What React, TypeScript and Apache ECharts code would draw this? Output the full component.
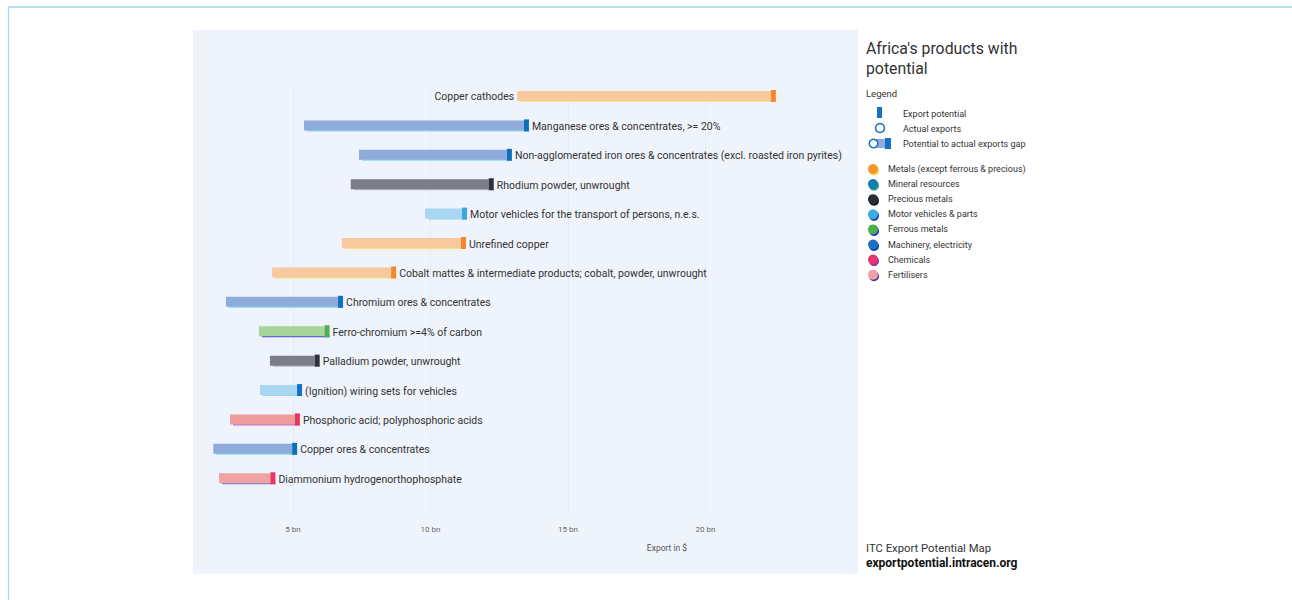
import React, { useEffect, useRef } from "react";
import * as echarts from "echarts";

const products = [
  "Copper cathodes",
  "Manganese ores & concentrates, >= 20%",
  "Non-agglomerated iron ores & concentrates (excl. roasted iron pyrites)",
  "Rhodium powder, unwrought",
  "Motor vehicles for the transport of persons, n.e.s.",
  "Unrefined copper",
  "Cobalt mattes & intermediate products; cobalt, powder, unwrought",
  "Chromium ores & concentrates",
  "Ferro-chromium >=4% of carbon",
  "Palladium powder, unwrought",
  "(Ignition) wiring sets for vehicles",
  "Phosphoric acid; polyphosphoric acids",
  "Copper ores & concentrates",
  "Diammonium hydrogenorthophosphate",
];
// billions of US$
const actualExports = [13.15, 5.4, 7.4, 7.1, 9.8, 6.78, 4.24, 2.56, 3.76, 4.16, 3.8, 2.71, 2.1, 2.31];
const exportPotential = [22.56, 13.58, 12.96, 12.3, 11.33, 11.29, 8.75, 6.82, 6.33, 5.97, 5.33, 5.25, 5.15, 4.36];
const productGroup = [0, 1, 1, 2, 3, 0, 0, 1, 4, 2, 5, 6, 1, 7];

const groupNames = [
  "Metals (except ferrous & precious)",
  "Mineral resources",
  "Precious metals",
  "Motor vehicles & parts",
  "Ferrous metals",
  "Machinery, electricity",
  "Chemicals",
  "Fertilisers",
];
const xTicks = [5, 10, 15, 20];

// styles
const groupDot = ["#f7962e", "#157cb4", "#2a2f36", "#3aaee2", "#4cb04c", "#1a72c6", "#e5366a", "#f2a0a8"];
const groupDotShadow = ["#f2d84a", "#2aa08a", "#111418", "#1a3aa8", "#2424c8", "#0d3f8a", "#8a2ab0", "#5a2aa0"];
const groupBar = ["#f8c99e", "#8eabdc", "#7b7e88", "#a9d6f0", "#a6d49a", "#a9d6f0", "#ef9c9e", "#f0a3a3"];
const groupMarker = ["#f4892c", "#0e72b9", "#2c333b", "#3aa6e0", "#4caf50", "#1670c4", "#e6375e", "#e6375e"];
const groupUnder = ["#f0e468", "#7cdde0", "#b4b8bf", "#8fd0f0", "#3a3ad8", "#8fd0f0", "#b060d8", "#6a6ad8"];

const LABEL_LEFT_FROM_X = 700;

export default function App() {
  const ref = useRef<HTMLDivElement>(null);
  useEffect(() => {
    if (!ref.current) return;
    const chart = echarts.init(ref.current, null, { renderer: "svg" });
    const data = products.map((_, i) => [i, actualExports[i], exportPotential[i], productGroup[i]]);

    const legendGraphics: any[] = [];
    groupNames.forEach((name, k) => {
      const y = 169 + 15.1 * k;
      legendGraphics.push({
        type: "circle",
        shape: { cx: 874, cy: y + 1.5, r: 5 },
        style: { fill: groupDotShadow[k] },
        silent: true,
      });
      legendGraphics.push({
        type: "circle",
        shape: { cx: 873, cy: y, r: 5 },
        style: { fill: groupDot[k] },
        silent: true,
      });
      legendGraphics.push({
        type: "text",
        x: 888,
        y,
        style: { text: name, fill: "#333", font: "9px Roboto", verticalAlign: "middle" },
        silent: true,
      });
    });

    chart.setOption({
      animation: false,
      grid: { left: 155.5, right: 449, top: 86, bottom: 85, show: false },
      xAxis: {
        type: "value",
        min: 0,
        max: 25,
        interval: 5,
        axisLine: { show: false },
        axisTick: { show: false },
        splitLine: { show: false },
        axisLabel: {
          customValues: xTicks,
          formatter: (v: number) => `${v} bn`,
          color: "#666",
          fontSize: 8,
          fontFamily: "Roboto",
          margin: 10,
        },
      },
      yAxis: { type: "value", inverse: true, min: -0.34, max: 14.25, show: false },
      graphic: [
        { type: "line", shape: { x1: 8, y1: 7, x2: 1292, y2: 7 }, style: { stroke: "#6cc3de", lineWidth: 1.2 }, silent: true, z: -10 },
        { type: "line", shape: { x1: 8.5, y1: 7, x2: 8.5, y2: 600 }, style: { stroke: "#a0dcef", lineWidth: 1.2 }, silent: true, z: -10 },
        { type: "rect", shape: { x: 193, y: 30, width: 665, height: 544 }, style: { fill: "#eff4fc" }, silent: true, z: -10 },
        { type: "text", x: 667, y: 548, style: { text: "Export in $", fill: "#555", font: "8.5px Roboto", align: "center", verticalAlign: "middle" }, silent: true },
        { type: "text", x: 866, y: 48, style: { text: "Africa's products with", fill: "#333", font: "15.8px Roboto", verticalAlign: "middle" }, silent: true },
        { type: "text", x: 866, y: 68, style: { text: "potential", fill: "#333", font: "15.8px Roboto", verticalAlign: "middle" }, silent: true },
        { type: "text", x: 866, y: 93, style: { text: "Legend", fill: "#333", font: "9.5px Roboto", verticalAlign: "middle" }, silent: true },
        { type: "rect", shape: { x: 877, y: 107, width: 5, height: 11 }, style: { fill: "#1670c4" }, silent: true },
        { type: "text", x: 903, y: 114, style: { text: "Export potential", fill: "#333", font: "9px Roboto", verticalAlign: "middle" }, silent: true },
        { type: "circle", shape: { cx: 880, cy: 128, r: 4.5 }, style: { fill: "#fff", stroke: "#1670c4", lineWidth: 1.5 }, silent: true },
        { type: "text", x: 903, y: 129, style: { text: "Actual exports", fill: "#333", font: "9px Roboto", verticalAlign: "middle" }, silent: true },
        { type: "rect", shape: { x: 874, y: 139, width: 12, height: 9 }, style: { fill: "#8eabdc" }, silent: true },
        { type: "rect", shape: { x: 885, y: 138, width: 6, height: 11 }, style: { fill: "#1670c4" }, silent: true },
        { type: "circle", shape: { cx: 873.5, cy: 143.5, r: 4.3 }, style: { fill: "#fff", stroke: "#1670c4", lineWidth: 1.5 }, silent: true },
        { type: "text", x: 903, y: 144, style: { text: "Potential to actual exports gap", fill: "#333", font: "9px Roboto", verticalAlign: "middle" }, silent: true },
        ...legendGraphics,
        { type: "text", x: 866, y: 548, style: { text: "ITC Export Potential Map", fill: "#333", font: "11.3px Roboto", verticalAlign: "middle" }, silent: true },
        { type: "text", x: 866, y: 563, style: { text: "exportpotential.intracen.org", fill: "#111", font: "bold 12px Roboto", verticalAlign: "middle" }, silent: true },
      ],
      series: [
        {
          type: "line",
          data: [],
          silent: true,
          z: 0,
          markLine: {
            silent: true,
            symbol: "none",
            z: 0,
            label: { show: false },
            lineStyle: { color: "#e6ebf3", width: 1, type: "solid" },
            data: xTicks.map((v) => ({ xAxis: v })),
          },
        },
        {
          type: "custom",
          data,
          silent: true,
          z: 5,
          renderItem: (_params: any, api: any) => {
            const i = api.value(0);
            const a = api.value(1);
            const p = api.value(2);
            const g = api.value(3);
            const s = api.coord([a, i]);
            const e = api.coord([p, i]);
            const h = 10;
            const mw = 5;
            const name = products[i];
            const labelLeft = e[0] > LABEL_LEFT_FROM_X;
            return {
              type: "group",
              children: [
                {
                  type: "rect",
                  shape: { x: s[0] + 3, y: s[1] + h / 2 - 1, width: e[0] - s[0] - 3, height: 2 },
                  style: { fill: groupUnder[g], opacity: 0.9 },
                },
                {
                  type: "rect",
                  shape: { x: s[0], y: s[1] - h / 2, width: e[0] - s[0] - mw, height: h },
                  style: { fill: groupBar[g] },
                },
                {
                  type: "rect",
                  shape: { x: e[0] - mw, y: s[1] - h / 2 - 1, width: mw, height: h + 2 },
                  style: { fill: groupMarker[g] },
                },
                {
                  type: "text",
                  x: labelLeft ? s[0] - 3 : e[0] + 3,
                  y: s[1] + 1,
                  style: {
                    text: name,
                    fill: "#333",
                    font: "10.5px Roboto",
                    align: labelLeft ? "right" : "left",
                    verticalAlign: "middle",
                  },
                },
              ],
            };
          },
        },
      ],
    });
    return () => chart.dispose();
  }, []);
  return (
    <div
      ref={ref}
      style={{ position: "absolute", left: 0, top: 0, width: 1292, height: 600, background: "#fff" }}
    />
  );
}
